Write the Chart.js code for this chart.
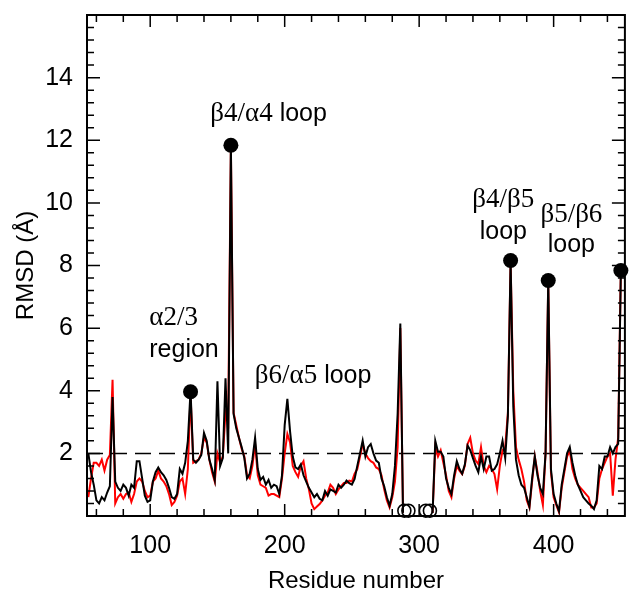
<!DOCTYPE html>
<html><head><meta charset="utf-8">
<script src="https://cdn.jsdelivr.net/npm/chart.js@4.4.0/dist/chart.umd.min.js"></script>
<style>html,body{margin:0;padding:0;background:#fff;}</style>
</head><body>
<canvas id="c" width="633" height="597"></canvas>
<script>
// ---------------- DATA ----------------
const residues = [54,56,58,60,62,64,66,68,70,72,74,76,78,80,82,84,86,88,90,92,94,96,98,100,102,104,106,108,110,112,114,116,118,120,122,124,126,128,130,132,134,136,138,140,142,144,146,148,150,152,154,156,158,160,162,164,166,168,170,172,174,176,178,180,182,184,186,188,190,192,194,196,198,200,202,204,206,208,210,212,214,216,218,220,222,224,226,228,230,232,234,236,238,240,242,244,246,248,250,252,254,256,258,260,262,264,266,268,270,272,274,276,278,280,282,284,286,288,290,292,294,296,298,300,302,304,306,308,310,312,314,316,318,320,322,324,326,328,330,332,334,336,338,340,342,344,346,348,350,352,354,356,358,360,362,364,366,368,370,372,374,376,378,380,382,384,386,388,390,392,394,396,398,400,402,404,406,408,410,412,414,416,418,420,422,424,426,428,430,432,434,436,438,440,442,444,446,448,450,452];
const rmsdBlack = [2.0,1.4,1.0,0.5,0.4,0.6,0.5,0.75,0.95,3.8,1.1,0.9,0.8,1.0,0.9,0.65,1.0,0.9,1.75,1.75,1.2,0.65,0.45,0.5,1.1,1.4,1.55,1.4,1.3,1.15,0.9,0.6,0.55,0.7,1.5,1.35,1.7,2.4,4.0,1.8,1.7,1.8,1.95,2.65,2.4,1.8,1.5,1.15,4.3,1.6,1.85,4.4,2.0,11.84,3.26,2.8,2.5,2.2,1.85,1.2,1.35,1.8,2.5,1.5,1.15,1.25,1.0,1.15,0.9,1.0,0.95,0.7,1.3,2.9,3.74,2.7,1.9,1.55,1.5,1.65,1.3,1.1,0.9,0.75,0.6,0.7,0.55,0.5,0.8,0.65,0.85,0.8,0.75,1.0,0.9,1.0,1.13,1.05,1.0,1.18,1.6,2.0,2.41,1.9,2.2,2.3,2.0,1.77,1.7,1.2,0.95,0.6,0.33,0.7,1.6,3.26,6.15,0.1,null,null,null,null,null,null,null,null,null,null,0.1,2.4,2.05,2.05,1.9,1.2,0.9,0.7,1.3,1.75,1.5,1.35,1.65,2.25,2.1,1.85,1.6,1.4,1.9,1.5,1.9,1.9,1.45,1.5,1.65,2.0,2.4,1.85,3.2,8.16,3.5,1.8,1.3,1.0,0.9,0.6,0.3,1.2,1.9,1.3,0.9,0.7,2.0,7.52,1.5,0.7,0.4,0.15,1.0,1.5,2.0,2.2,1.7,1.3,1.0,0.8,0.6,0.5,0.4,0.33,0.22,0.5,1.6,1.5,1.9,1.9,2.2,2.0,2.2,2.3,7.84,7.8];
const rmsdRed = [0.6,1.2,1.7,1.7,1.6,1.8,1.45,1.8,1.95,4.35,0.4,0.6,0.7,0.55,0.7,0.75,0.45,0.7,1.1,1.2,1.1,0.8,0.6,0.65,1.1,1.2,1.45,1.2,1.1,0.95,0.7,0.35,0.45,0.65,1.1,1.2,0.7,1.5,3.9,1.7,1.75,1.8,2.0,2.5,2.35,1.8,1.4,1.1,2.0,1.7,1.9,3.3,3.0,11.8,3.3,2.9,2.5,2.15,1.9,1.3,1.2,1.6,2.3,1.3,1.0,0.95,0.9,0.65,0.7,0.7,0.65,0.6,1.2,2.0,2.62,2.35,1.6,1.4,1.25,1.6,1.75,1.2,0.85,0.4,0.22,0.3,0.38,0.5,0.65,0.75,1.0,0.9,0.7,0.85,0.95,1.05,1.05,1.13,1.1,1.35,1.5,1.9,2.3,2.0,1.85,1.75,1.7,1.55,1.5,1.3,0.85,0.5,0.27,0.6,1.1,2.2,6.0,0.1,null,null,null,null,null,null,null,null,null,null,0.1,2.2,1.9,2.1,1.7,1.3,0.8,0.6,1.2,1.6,1.45,1.34,1.6,2.3,2.5,2.0,1.77,1.66,2.2,1.6,1.4,1.6,1.5,1.34,0.85,1.6,2.1,2.2,3.3,8.1,4.0,2.2,1.8,1.5,1.1,0.5,0.27,1.1,1.9,1.4,0.8,0.35,2.0,7.5,1.4,0.6,0.35,0.12,0.9,1.4,1.9,2.1,1.5,1.2,1.0,0.9,0.8,0.7,0.6,0.27,0.27,0.4,1.2,1.5,1.7,1.9,2.0,0.65,1.8,2.5,7.9,8.0];
const peakResidues = [130,160,368,396,450];
const peakRmsd = [3.97,11.84,8.16,7.52,7.84];
const gapResidues = [289,292,305,308];
const gapRmsd = [0.17,0.17,0.17,0.17];
const thresholdRmsd = 2;
const xTickValues = [100,200,300,400];
const yTickValues = [2,4,6,8,10,12,14];
const regionLabels = [
  {x:144.7, y:12.6,  align:'left', lines:[[['β4/α4','serif'],[' loop','sans']]]},
  {x:99.3,  y:6.1,   align:'left', lines:[[['α2/3','serif']]]},
  {x:99.3,  y:5.08,  align:'left', lines:[[['region','sans']]]},
  {x:177.8, y:4.24,  align:'left', lines:[[['β6/α5','serif'],[' loop','sans']]]},
  {x:362.6, y:9.86,  align:'center', lines:[[['β4/β5','serif']]]},
  {x:362.6, y:8.86,  align:'center', lines:[[['loop','sans']]]},
  {x:413.2, y:9.38,  align:'center', lines:[[['β5/β6','serif']]]},
  {x:413.2, y:8.42,  align:'center', lines:[[['loop','sans']]]}
];
// --------------------------------------

const SANS = '"Liberation Sans", Arial, sans-serif';
const SERIF = '"Liberation Serif", "Times New Roman", serif';
const pts = (xs, ys) => xs.map((x,i)=>({x:x, y:ys[i]}));

const framePlugin = {
  id:'frame',
  afterDatasetsDraw(chart){
    const {ctx, chartArea:a, scales:{x, y}} = chart;
    ctx.save();
    ctx.strokeStyle = '#000';
    ctx.lineWidth = 2;
    ctx.strokeRect(a.left, a.top, a.right-a.left, a.bottom-a.top);
    ctx.lineWidth = 1.5;
    ctx.beginPath();
    for (let v = 60; v <= 440; v += 20) {
      const px = x.getPixelForValue(v);
      const L = (v % 100 === 0) ? 12 : 7;
      ctx.moveTo(px, a.bottom); ctx.lineTo(px, a.bottom - L);
      ctx.moveTo(px, a.top); ctx.lineTo(px, a.top + L);
    }
    for (let k = 1; k < 40; k++) {
      const v = k*0.4;
      const py = y.getPixelForValue(v);
      const L = (k % 5 === 0) ? 13 : 7;
      ctx.moveTo(a.left, py); ctx.lineTo(a.left + L, py);
      ctx.moveTo(a.right, py); ctx.lineTo(a.right - L, py);
    }
    ctx.stroke();
    ctx.fillStyle = '#000';
    ctx.textBaseline = 'alphabetic';
    regionLabels.forEach(lab=>{
      const px = x.getPixelForValue(lab.x), py = y.getPixelForValue(lab.y);
      lab.lines.forEach(line=>{
        const fonts = line.map(s=> s[1]==='serif' ? '27px '+SERIF : '25px '+SANS);
        let w = 0;
        line.forEach((s,i)=>{ctx.font = fonts[i]; w += ctx.measureText(s[0]).width;});
        let cx = lab.align==='center' ? px - w/2 : px;
        line.forEach((s,i)=>{
          ctx.font = fonts[i];
          ctx.textAlign = 'left';
          ctx.fillText(s[0], cx, py);
          cx += ctx.measureText(s[0]).width;
        });
      });
    });
    ctx.restore();
  }
};

new Chart(document.getElementById('c'), {
  type:'line',
  data:{
    datasets:[
      {type:'scatter', data:pts(peakResidues, peakRmsd), pointRadius:7.5, pointHoverRadius:7.5,
       backgroundColor:'#000', borderColor:'#000', borderWidth:0, showLine:false, clip:false},
      {type:'scatter', data:pts(gapResidues, gapRmsd), pointRadius:6.5, pointHoverRadius:6.5,
       backgroundColor:'rgba(0,0,0,0)', borderColor:'#000', borderWidth:1.6, showLine:false, clip:false},
      {data:pts(residues, rmsdBlack), borderColor:'#000', borderWidth:2, pointRadius:0, tension:0, spanGaps:false},
      {data:pts(residues, rmsdRed), borderColor:'#ff0000', borderWidth:2, pointRadius:0, tension:0, spanGaps:false},
      {data:[{x:53,y:thresholdRmsd},{x:453,y:thresholdRmsd}], borderColor:'#000', borderWidth:1.5,
       borderDash:[16,8], pointRadius:0}
    ]
  },
  options:{
    responsive:false, devicePixelRatio:1, animation:false,
    layout:{padding:{top:15, right:1, left:0, bottom:0}},
    plugins:{legend:{display:false}, tooltip:{enabled:false}},
    scales:{
      x:{type:'linear', min:53, max:453, position:'bottom',
         grid:{display:false, drawTicks:false}, border:{display:false},
         afterBuildTicks:(s)=>{s.ticks = xTickValues.map(v=>({value:v}));},
         afterFit:(s)=>{s.height = 81; s.paddingLeft = 0; s.paddingRight = 0;},
         ticks:{font:{family:SANS, size:25}, color:'#000', padding:15, maxRotation:0, autoSkip:false},
         title:{display:true, text:'Residue number', font:{family:SANS, size:24}, color:'#000', padding:{top:2,bottom:1}}
      },
      y:{type:'linear', min:0, max:16,
         grid:{display:false, drawTicks:false}, border:{display:false},
         afterBuildTicks:(s)=>{s.ticks = yTickValues.map(v=>({value:v}));},
         afterFit:(s)=>{s.width = 87; s.paddingTop = 0; s.paddingBottom = 0;},
         ticks:{font:{family:SANS, size:25}, color:'#000', padding:14, autoSkip:false},
         title:{display:true, text:'RMSD (Å)', font:{family:SANS, size:24}, color:'#000', padding:{top:12,bottom:0}}
      }
    }
  },
  plugins:[framePlugin]
});
</script>
</body></html>
